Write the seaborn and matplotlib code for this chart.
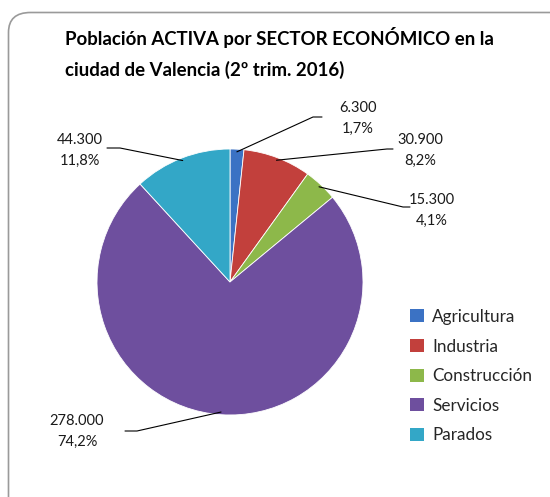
import numpy as np
import matplotlib
matplotlib.use("Agg")
import matplotlib.pyplot as plt
import seaborn as sns
from matplotlib.patches import FancyBboxPatch, Patch

# ==============================
# Data
# ==============================
sectors = ["Agricultura", "Industria", "Construcción", "Servicios", "Parados"]
values = [6300, 30900, 15300, 278000, 44300]
colors = ["#3B72C4", "#C2403C", "#8DB84A", "#6E4F9E", "#33A7C7"]

title = "Población ACTIVA por SECTOR ECONÓMICO en la\nciudad de Valencia (2º trim. 2016)"

sns.set_theme(style="white")
plt.rcParams["font.family"] = ["Lato", "DejaVu Sans"]

W, H = 550, 497
fig = plt.figure(figsize=(W / 100, H / 100), dpi=100)
fig.patch.set_facecolor("white")

# rounded frame
frame = FancyBboxPatch(
    (8.5 / W, -40 / H), 600 / W, (H - 12.5 + 40) / H,
    boxstyle="round,pad=0,rounding_size=0.04",
    transform=fig.transFigure, facecolor="white",
    edgecolor="#9a9a9a", linewidth=1.2, zorder=-5
)
fig.patches.append(frame)

fig.text(65 / W, 1 - 53 / H, title, ha="left", va="center",
         fontsize=13.4, fontweight="bold", color="black", linespacing=1.8)

# ==============================
# Pie
# ==============================
cx, cy, r = 230, 282, 133
ax = fig.add_axes([(cx - r) / W, (H - cy - r) / H, 2 * r / W, 2 * r / H])
ax.set_zorder(2)
ax.patch.set_alpha(0)
wedges, _ = ax.pie(values, colors=colors, startangle=90, counterclock=False,
                   radius=1, wedgeprops=dict(edgecolor="white", linewidth=0.6))
ax.set_xlim(-1, 1)
ax.set_ylim(-1, 1)
ax.set_aspect("equal")
ax.axis("off")

total = sum(values)


def fmt_val(v):
    return f"{v:,}".replace(",", ".")


def fmt_pct(v):
    return f"{100 * v / total:.1f}%".replace(".", ",")


def px(x, y):
    return (x - cx) / r, (cy - y) / r


# text centre and leader line points (pixels), outer end first
text_pos = [(358, 118.5), (420, 150.5), (432, 210.5), (77, 431.5), (80, 150.5)]
leader = [
    [(322, 117), (313, 117)],
    [(393, 149), (387, 149)],
    [(410, 207), (403, 207)],
    [(125, 431), (137, 431)],
    [(107, 148), (120, 148)],
]

for i, w in enumerate(wedges):
    ang = np.deg2rad((w.theta1 + w.theta2) / 2)
    pts = [px(*p) for p in leader[i]] + [(np.cos(ang) * 0.98, np.sin(ang) * 0.98)]
    xs, ys = zip(*pts)
    ax.plot(xs, ys, color="black", linewidth=0.8, clip_on=False)
    tx, ty = px(*text_pos[i])
    ax.text(tx, ty, fmt_val(values[i]) + "\n" + fmt_pct(values[i]),
            ha="center", va="center", fontsize=10.5, linespacing=1.55,
            color="#1a1a1a", clip_on=False)

# ==============================
# Legend
# ==============================
handles = [Patch(facecolor=c, edgecolor="none") for c in colors]
fig.legend(handles, sectors, loc="upper left",
           bbox_to_anchor=(403 / W, 1 - 302 / H), frameon=False,
           fontsize=12.3, handlelength=0.8, handleheight=0.8,
           handletextpad=0.5, labelspacing=0.8, borderaxespad=0)

fig.savefig("out.png", dpi=100)
